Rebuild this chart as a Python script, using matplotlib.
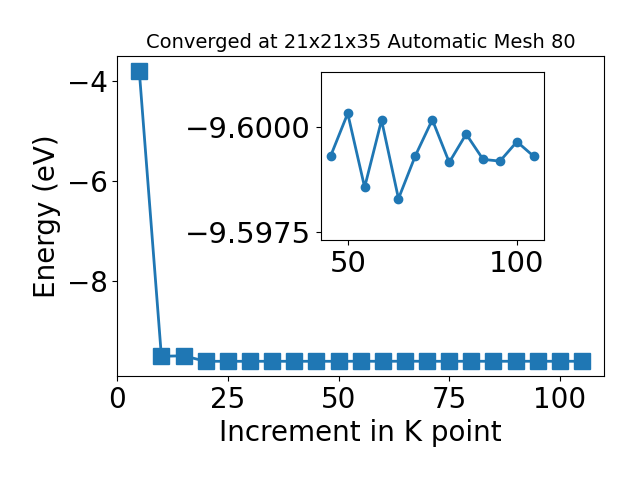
import matplotlib
matplotlib.use('Agg')
import matplotlib.pyplot as plt

kpoints = [5, 10, 15, 20, 25, 30, 35, 40, 45, 50, 55, 60, 65, 70, 75, 80, 85, 90, 95, 100, 105]
energy = [-3.79, -9.50, -9.49, -9.6001, -9.5999, -9.6000, -9.5996, -9.6002,
          -9.59932, -9.60032, -9.59857, -9.60016, -9.59830, -9.59932, -9.60017,
          -9.59916, -9.59983, -9.59923, -9.59919, -9.59965, -9.59930]

inset_k = kpoints[8:]
inset_e = energy[8:]

fig = plt.figure(figsize=(6.4, 4.8), dpi=100)
ax = fig.add_axes([0.183, 0.217, 0.761, 0.666])
ax.plot(kpoints, energy, marker='s', markersize=11, linewidth=2, color='#1f77b4')
ax.set_xlabel('Increment in K point', fontsize=20)
ax.set_ylabel('Energy (eV)', fontsize=20)
ax.set_title('Converged at 21x21x35 Automatic Mesh 80', fontsize=14)
ax.tick_params(labelsize=20)
ax.set_xticks([0, 25, 50, 75, 100])
ax.set_yticks([-4, -6, -8])

ins = fig.add_axes([0.501, 0.5, 0.349, 0.349])
ins.plot(inset_k, inset_e, marker='o', markersize=6, linewidth=2, color='#1f77b4')
ins.set_ylim(-9.59732, -9.60129)
ins.set_yticks([-9.6, -9.5975])
ins.set_yticklabels(['\u22129.6000', '\u22129.5975'])
ins.set_xticks([50, 100])
ins.tick_params(labelsize=21)

fig.savefig('out.png')
